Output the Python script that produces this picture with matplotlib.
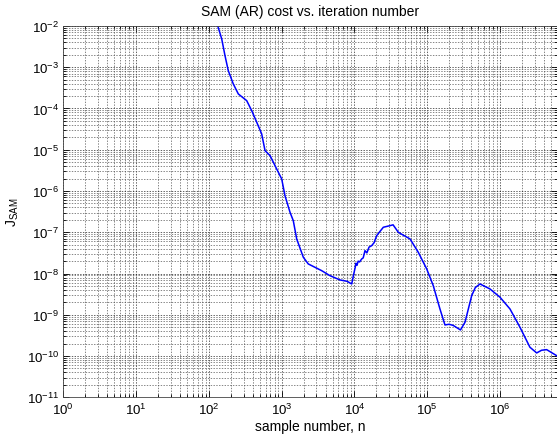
import numpy as np
import matplotlib
matplotlib.use('Agg')
import matplotlib.pyplot as plt
from matplotlib.ticker import LogLocator, NullFormatter

plt.rcParams['font.family'] = ['Liberation Sans', 'DejaVu Sans']
plt.rcParams['mathtext.fontset'] = 'custom'
plt.rcParams['mathtext.rm'] = 'Liberation Sans'
plt.rcParams['mathtext.it'] = 'Liberation Sans:italic'
plt.rcParams['mathtext.default'] = 'regular'

# curve, as log10(n) and log10(J)
log_n = [2.05, 2.125, 2.176, 2.221, 2.266, 2.335, 2.404, 2.519, 2.588, 2.657,
         2.725, 2.771, 2.84, 2.931, 3.0, 3.045, 3.114, 3.159, 3.206, 3.297,
         3.365, 3.549, 3.663, 3.801, 3.90, 3.962, 3.985, 4.01, 4.02, 4.035,
         4.05, 4.07, 4.099, 4.12, 4.144, 4.17, 4.20, 4.236, 4.27, 4.305,
         4.35, 4.396, 4.44, 4.488, 4.53, 4.602, 4.68, 4.763, 4.876, 4.992,
         5.082, 5.174, 5.243, 5.30, 5.357, 5.456, 5.518, 5.61, 5.66, 5.724,
         5.861, 5.999, 6.136, 6.273, 6.41, 6.503, 6.57, 6.64, 6.777]
log_j = [-1.6, -2.02, -2.315, -2.72, -3.083, -3.406, -3.648, -3.81, -4.053, -4.334,
         -4.617, -5.022, -5.143, -5.466, -5.708, -6.113, -6.515, -6.719, -7.162, -7.606,
         -7.768, -7.931, -8.052, -8.156, -8.19, -8.253, -8.05, -7.85, -7.75, -7.80,
         -7.70, -7.72, -7.647, -7.62, -7.446, -7.50, -7.36, -7.325, -7.25, -7.082,
         -6.98, -6.879, -6.86, -6.84, -6.82, -7.0, -7.08, -7.162, -7.485, -7.889,
         -8.294, -8.859, -9.247, -9.23, -9.259, -9.368, -9.181, -8.537, -8.34, -8.253,
         -8.374, -8.575, -8.859, -9.302, -9.787, -9.925, -9.86, -9.845, -9.991]

xticks = [1e0, 1e1, 1e2, 1e3, 1e4, 1e5, 1e6]
yticks = [1e-11, 1e-10, 1e-9, 1e-8, 1e-7, 1e-6, 1e-5, 1e-4, 1e-3, 1e-2]

n = 10.0 ** np.array(log_n)
J = 10.0 ** np.array(log_j)

fig = plt.figure(figsize=(5.57, 4.35), dpi=100)
ax = fig.add_axes([0.1137, 0.0844, 0.8858, 0.8536])

ax.loglog(n, J, color=(0, 0, 1), linewidth=1.1)

ax.set_xlim(1, 6.0e6)
ax.set_ylim(1e-11, 1e-2)

ax.set_xticks(xticks)
ax.set_yticks(yticks)
ax.xaxis.set_minor_locator(LogLocator(base=10, subs=np.arange(2, 10), numticks=20))
ax.yaxis.set_minor_locator(LogLocator(base=10, subs=np.arange(2, 10), numticks=20))
ax.xaxis.set_minor_formatter(NullFormatter())
ax.yaxis.set_minor_formatter(NullFormatter())

ax.grid(True, which='major', color='#222222', linestyle=(0, (2, 2)), linewidth=0.5)
ax.grid(True, which='minor', color='#555555', linestyle=(0, (2, 2)), linewidth=0.5)

ax.tick_params(which='both', direction='in', top=True, right=True,
               labelsize=9.5, width=0.6)
ax.tick_params(which='major', length=4)
ax.tick_params(which='minor', length=2)
ax.tick_params(axis='y', pad=3)
ax.tick_params(axis='x', pad=3)
for s in ax.spines.values():
    s.set_linewidth(0.6)
    s.set_color('#444444')

ax.set_title('SAM (AR) cost vs. iteration number', fontsize=10, pad=0, y=1.03)
ax.set_xlabel('sample number, n', fontsize=10, labelpad=2)
ax.set_ylabel('J$_{SAM}$', fontsize=10, labelpad=4)

fig.savefig('out.png', dpi=100)
